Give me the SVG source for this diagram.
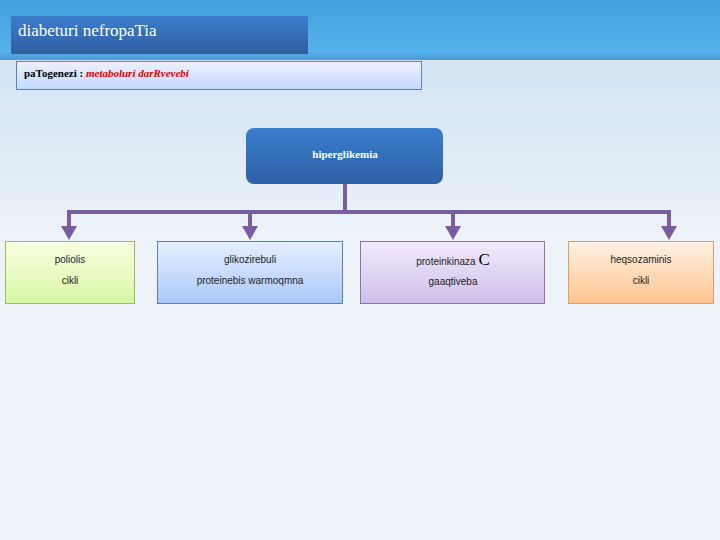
<svg xmlns="http://www.w3.org/2000/svg" width="720" height="540" viewBox="0 0 720 540">
<defs>
<linearGradient id="bg" x1="0" y1="0" x2="0" y2="1">
<stop offset="0" stop-color="#c9dff0"/><stop offset="0.45" stop-color="#edf3f9"/><stop offset="1" stop-color="#eef4fa"/>
</linearGradient>
<linearGradient id="band" x1="0" y1="0" x2="0" y2="1">
<stop offset="0" stop-color="#43a0df"/><stop offset="0.85" stop-color="#55b2ea"/><stop offset="1" stop-color="#4a9ad6"/>
</linearGradient>
<linearGradient id="title" x1="0" y1="0" x2="0" y2="1">
<stop offset="0" stop-color="#3c7dcc"/><stop offset="1" stop-color="#2f5e9e"/>
</linearGradient>
<linearGradient id="sub" x1="0" y1="0" x2="0" y2="1">
<stop offset="0" stop-color="#eef2ff"/><stop offset="1" stop-color="#c4d8ff"/>
</linearGradient>
<linearGradient id="hip" x1="0" y1="0" x2="0" y2="1">
<stop offset="0" stop-color="#3a7ecf"/><stop offset="1" stop-color="#2e60a4"/>
</linearGradient>
<linearGradient id="g1" x1="0" y1="0" x2="0" y2="1">
<stop offset="0" stop-color="#f8ffe2"/><stop offset="1" stop-color="#d9f7a4"/>
</linearGradient>
<linearGradient id="g2" x1="0" y1="0" x2="0" y2="1">
<stop offset="0" stop-color="#e6efff"/><stop offset="1" stop-color="#a9c9fb"/>
</linearGradient>
<linearGradient id="g3" x1="0" y1="0" x2="0" y2="1">
<stop offset="0" stop-color="#f1eafb"/><stop offset="1" stop-color="#cebfea"/>
</linearGradient>
<linearGradient id="g4" x1="0" y1="0" x2="0" y2="1">
<stop offset="0" stop-color="#fff2e4"/><stop offset="1" stop-color="#ffc48e"/>
</linearGradient>
<marker id="ah" viewBox="0 0 10 10" refX="10" refY="5" markerWidth="14" markerHeight="16" markerUnits="userSpaceOnUse" orient="auto" preserveAspectRatio="none">
<path d="M0,0 L10,5 L0,10 Z" fill="#7b5e9f"/>
</marker>
</defs>
<style>
.box text{font-family:"Liberation Sans",Arial,sans-serif;font-size:10px;fill:#222;text-anchor:middle}
.conn path{fill:none;stroke:#7b5e9f;stroke-width:4}
</style>
<rect width="720" height="540" fill="url(#bg)"/>
<rect width="720" height="60" fill="url(#band)"/>
<g id="title-box">
<rect x="11" y="16" width="297" height="38" fill="url(#title)"/>
<text x="18" y="36" font-family="Liberation Serif,serif" font-size="17" fill="#fff">diabeturi nefropaTia</text>
</g>
<g id="subtitle">
<rect x="16.5" y="61.5" width="405" height="28" fill="url(#sub)" stroke="#5b82be"/>
<text x="24" y="77" font-family="Liberation Serif,serif" font-size="11" font-weight="bold" fill="#000">paTogenezi : <tspan fill="#e00000" font-style="italic">metaboluri darRvevebi</tspan></text>
</g>
<g id="n-hiperglikemia">
<rect x="246" y="128" width="197" height="56" rx="8" fill="url(#hip)"/>
<text x="345" y="158" font-family="Liberation Serif,serif" font-size="11" font-weight="bold" fill="#fff" text-anchor="middle">hiperglikemia</text>
</g>
<g class="conn" id="connectors">
<path d="M345,184 V212"/>
<path d="M69,212 H669"/>
<path d="M69,210 V228"/>
<path d="M250,212 V228"/>
<path d="M453,212 V228"/>
<path d="M669,210 V228"/>
<path d="M69,226 V240" marker-end="url(#ah)" style="stroke:none"/>
<path d="M250,226 V240" marker-end="url(#ah)" style="stroke:none"/>
<path d="M453,226 V240" marker-end="url(#ah)" style="stroke:none"/>
<path d="M669,226 V240" marker-end="url(#ah)" style="stroke:none"/>
</g>
<g class="box" id="n-poliolis">
<rect x="5.5" y="241.5" width="129" height="62" fill="url(#g1)" stroke="#9dbb6a"/>
<text x="70" y="263">poliolis</text>
<text x="70" y="284">cikli</text>
</g>
<g class="box" id="n-glikozirebuli">
<rect x="157.5" y="241.5" width="185" height="62" fill="url(#g2)" stroke="#5b7fb5"/>
<text x="250" y="263">glikozirebuli</text>
<text x="250" y="284">proteinebis warmoqmna</text>
</g>
<g class="box" id="n-proteinkinaza">
<rect x="360.5" y="241.5" width="184" height="62" fill="url(#g3)" stroke="#8a74aa"/>
<text x="453" y="265">proteinkinaza <tspan font-family="Liberation Serif,serif" font-size="17" fill="#000">C</tspan></text>
<text x="453" y="285">gaaqtiveba</text>
</g>
<g class="box" id="n-heqsozaminis">
<rect x="568.5" y="241.5" width="145" height="62" fill="url(#g4)" stroke="#d9a070"/>
<text x="641" y="263">heqsozaminis</text>
<text x="641" y="284">cikli</text>
</g>
</svg>
